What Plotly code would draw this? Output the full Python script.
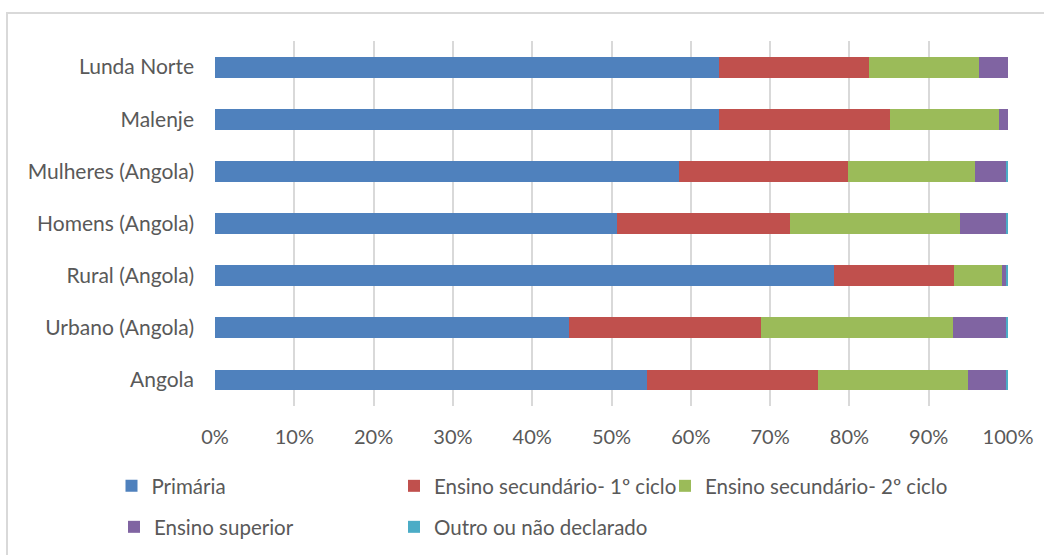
import plotly.graph_objects as go

# Education level shares (%) by group, listed bottom-to-top
categories = ["Angola", "Urbano (Angola)", "Rural (Angola)", "Homens (Angola)",
              "Mulheres (Angola)", "Malenje", "Lunda Norte"]

primaria = [54.5, 44.6, 78.0, 50.7, 58.5, 63.5, 63.5]
sec_1ciclo = [21.6, 24.3, 15.2, 21.8, 21.3, 21.6, 19.0]
sec_2ciclo = [18.8, 24.2, 6.0, 21.5, 16.1, 13.8, 13.9]
superior = [4.8, 6.6, 0.6, 5.8, 3.9, 1.1, 3.6]
outro = [0.3, 0.3, 0.2, 0.2, 0.2, 0.0, 0.0]

series = [
    ("Primária", primaria, "#4f81bd"),
    ("Ensino secundário- 1º ciclo", sec_1ciclo, "#c0504d"),
    ("Ensino secundário- 2º ciclo", sec_2ciclo, "#9bbb59"),
    ("Ensino superior", superior, "#8064a2"),
    ("Outro ou não declarado", outro, "#4bacc6"),
]

FONT = "Lato"
TEXT = "#595959"

W, H = 1044, 555
ml, mr, mt, mb = 215, 36, 41, 149
pw, ph = W - ml - mr, H - mt - mb

# legend entry placement (pixel centre of the swatch, row centre)
legend_slots = [(131.5, 485), (414, 485), (685, 485), (134, 526), (414, 526)]

fig = go.Figure()
layout_legends = {}
for i, ((name, vals, color), (cx, cy)) in enumerate(zip(series, legend_slots)):
    key = "legend" if i == 0 else f"legend{i + 1}"
    fig.add_trace(go.Bar(
        name=name, y=categories, x=[v / 100 for v in vals], orientation="h",
        marker=dict(color=color, line=dict(width=0)),
        hoverinfo="skip", legend=key, showlegend=True,
    ))
    layout_legends[key] = dict(
        orientation="h",
        x=(cx - 20 - ml) / pw, xanchor="left",
        y=-(cy - 19 - (mt + ph)) / ph, yanchor="top",
        font=dict(family=FONT, size=20.5, color=TEXT),
        bgcolor="rgba(0,0,0,0)",
        itemclick=False, itemdoubleclick=False,
    )

fig.update_layout(
    width=W, height=H,
    margin=dict(l=ml, r=mr, t=mt, b=mb, pad=0, autoexpand=False),
    showlegend=True,
    barmode="stack", bargap=0.6,
    paper_bgcolor="white", plot_bgcolor="white",
    font=dict(family=FONT, size=20, color=TEXT),
    xaxis=dict(
        range=[0, 1], tickformat=".0%", dtick=0.1,
        showgrid=True, gridcolor="#d9d9d9", gridwidth=2,
        zeroline=False, showline=False, ticks="",
        ticklabelstandoff=17,
        tickfont=dict(family=FONT, size=20, color=TEXT),
        fixedrange=True,
    ),
    yaxis=dict(
        showgrid=False, zeroline=False, showline=False, ticks="",
        ticklabelstandoff=20,
        tickfont=dict(family=FONT, size=21, color=TEXT),
        fixedrange=True,
    ),
    shapes=[dict(
        type="rect", xref="paper", yref="paper",
        x0=(7 - ml) / pw, x1=(W + 20 - ml) / pw,
        y0=-(H + 20 - mt - ph) / ph, y1=1 + (mt - 13) / ph,
        line=dict(color="#d9d9d9", width=2), fillcolor="rgba(0,0,0,0)",
        layer="below",
    )],
    **layout_legends,
)

fig.write_html("out.html")
